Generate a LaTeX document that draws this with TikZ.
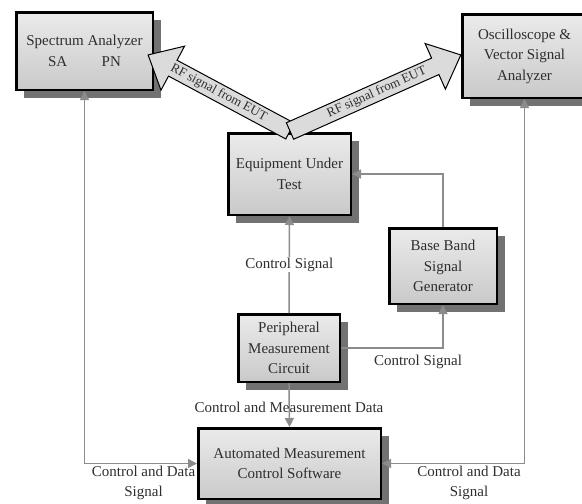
\documentclass[tikz,border=0pt]{standalone}
\usepackage{fontspec}
\setmainfont{Liberation Serif}
\usetikzlibrary{arrows.meta,shadows,calc}
\definecolor{txt}{HTML}{2E2E2E}
\definecolor{connc}{HTML}{8C8C8C}
\definecolor{shad}{HTML}{727272}
\begin{document}
\begin{tikzpicture}[x=1pt,y=-1pt,
  box/.style={draw=black, line width=2.5pt, top color=black!8, bottom color=black!21,
    general shadow={fill=shad, shadow xshift=8pt, shadow yshift=-8pt},
    align=center, text=txt, font=\fontsize{15}{20.5}\selectfont, inner sep=0pt},
  conn/.style={draw=connc, line width=1.5pt},
  tipend/.style={-{Triangle[length=9pt,width=9pt,fill=connc]}},
  tipboth/.style={{Triangle[length=9pt,width=9pt,fill=connc]}-{Triangle[length=9pt,width=9pt,fill=connc]}},
  lbl/.style={text=txt, font=\fontsize{15}{20}\selectfont, align=center, inner sep=1pt},
  fat/.style={draw=black, line width=1pt, fill=black!14, line join=miter},
  fatlbl/.style={text=txt, font=\fontsize{13}{15}\selectfont, inner sep=0pt}
]
\useasboundingbox (0,0) rectangle (582,504);

% boxes
\node[box, minimum width=136.5pt, minimum height=77.5pt] (sa) at (84.5,51)
  {Spectrum Analyzer\\SA\hspace{2.3em}PN};
\node[box, minimum width=124.5pt, minimum height=83.5pt] (osc) at (524.5,56)
  {Oscilloscope \&\\Vector Signal\\Analyzer};
\node[box, minimum width=122.5pt, minimum height=81.5pt] (eut) at (289.5,174)
  {Equipment Under\\Test};
\node[box, minimum width=107.5pt, minimum height=75.5pt] (bb) at (443,266)
  {Base Band\\Signal\\Generator};
\node[box, minimum width=101.5pt, minimum height=67.5pt] (pmc) at (289,348)
  {Peripheral\\Measurement\\Circuit};
\node[box, minimum width=182.5pt, minimum height=70.5pt] (amcs) at (289.5,463.5)
  {Automated Measurement\\Control Software};

% fat RF arrows
\begin{scope}[shift={(290,131)}, rotate=151.8]
  \draw[fat] (0,-9) -- (133,-9) -- (133,-25) -- (161,0) -- (133,25) -- (133,9) -- (0,9) -- cycle;
  \node[fatlbl, rotate=-28.2] (rfl) at (81,0) {RF signal from EUT};
\end{scope}
\begin{scope}[shift={(290,131)}, rotate=24.0]
  \draw[fat] (0,-9) -- (159,-9) -- (159,-25) -- (187,0) -- (159,25) -- (159,9) -- (0,9) -- cycle;
  \node[fatlbl, rotate=24.0] (rfr) at (95,0) {RF signal from EUT};
\end{scope}

% connectors
\draw[conn, tipboth] (sa.south) |- (amcs.west);
\draw[conn, tipboth] (osc.south) |- (amcs.east);
\draw[conn, tipend] (pmc.north) -- node[lbl, fill=white] (cs1) {Control Signal} (eut.south);
\draw[conn, tipend] (bb.north) |- (eut.east);
\draw[conn, tipend] (pmc.east) -| (bb.south);
\draw[conn, tipend] (pmc.south) -- (amcs.north);

% labels
\node[lbl] (cs2) at (418,362) {Control Signal};
\node[lbl] (cmd) at (289,407) {Control and Measurement Data};
\node[lbl] (cdl) at (143.5,483) {Control and Data\\Signal};
\node[lbl] (cdr) at (469,483) {Control and Data\\Signal};
\end{tikzpicture}
\end{document}
